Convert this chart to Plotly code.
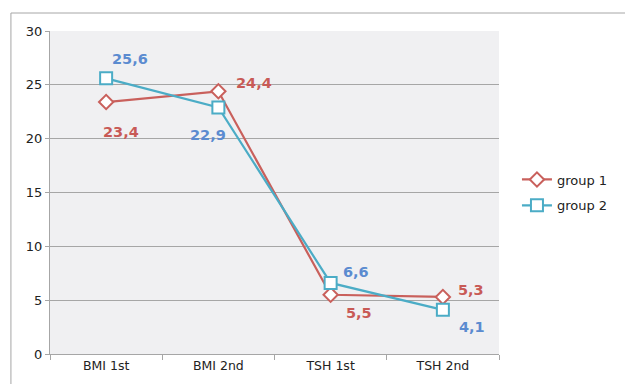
import plotly.graph_objects as go

categories = ["BMI 1st", "BMI 2nd", "TSH 1st", "TSH 2nd"]
group1 = [23.4, 24.4, 5.5, 5.3]
group2 = [25.6, 22.9, 6.6, 4.1]
y_ticks = [0, 5, 10, 15, 20, 25, 30]

RED = "#C9605C"
CYAN = "#4BACC6"
RED_TXT = "#C85A56"
BLUE_TXT = "#5B8BD0"
GRID = "#A6A6A6"

# pixel offsets of each value label from its point
off1 = [(15, 30), (36, -8), (28, 18), (28, -7)]
off2 = [(24, -19), (-10, 28), (25, -11), (29, 17)]

fig = go.Figure()
fig.add_trace(go.Scatter(
    x=categories, y=group1, name="group 1", mode="lines+markers",
    legendgroup="g1",
    line=dict(color=RED, width=2.2),
    marker=dict(symbol="diamond", size=11, color="white",
                line=dict(color=RED, width=2)),
))
fig.add_trace(go.Scatter(
    x=categories, y=group2, name="group 2", mode="lines+markers",
    legendgroup="g2",
    line=dict(color=CYAN, width=2.2),
    marker=dict(symbol="square", size=12, color="white",
                line=dict(color=CYAN, width=2)),
))

def fmt(v):
    return f"{v:.1f}".replace(".", ",")

annotations = []
for vals, offs, col in ((group1, off1, RED_TXT), (group2, off2, BLUE_TXT)):
    for c, v, (dx, dy) in zip(categories, vals, offs):
        annotations.append(dict(
            x=c, y=v, xref="x", yref="y", text=fmt(v), showarrow=False,
            xshift=dx, yshift=-dy,
            font=dict(family="DejaVu Sans", size=14.5, color=col, weight="bold"),
        ))

fig.update_layout(
    width=625, height=384,
    margin=dict(l=50, r=115, t=31, b=30),
    paper_bgcolor="white",
    plot_bgcolor="#F0F0F2",
    font=dict(family="DejaVu Sans", size=13, color="#222222"),
    annotations=annotations,
    showlegend=True,
    legend=dict(x=1.04, y=0.5, xanchor="left", yanchor="middle",
                bgcolor="rgba(0,0,0,0)", font=dict(size=13),
                tracegroupgap=6),
    shapes=[dict(
        type="path", xref="paper", yref="paper",
        path="M -0.087 -0.2 L -0.087 1.0557 L 1.4 1.0557",
        line=dict(color=GRID, width=1),
    )],
)
fig.update_xaxes(
    type="category", range=[-0.5, 3.5],
    showgrid=False, showline=True, linecolor=GRID, linewidth=1,
    ticks="outside", tickson="boundaries", ticklen=5, tickcolor=GRID,
    tickfont=dict(size=12.5),
)
fig.update_yaxes(
    range=[0, 30], tickvals=y_ticks,
    showgrid=True, gridcolor=GRID, gridwidth=1,
    showline=True, linecolor=GRID, linewidth=1,
    ticks="outside", ticklen=4, tickcolor=GRID,
    zeroline=False, tickfont=dict(size=13),
)

fig.write_html("out.html")
